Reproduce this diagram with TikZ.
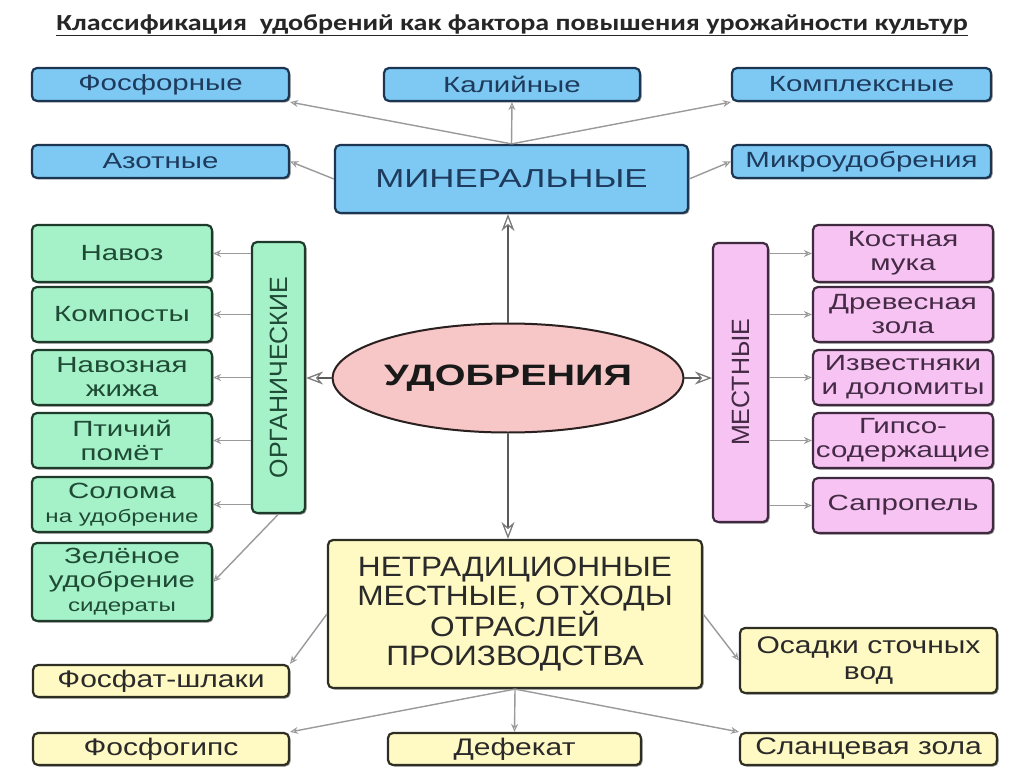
\documentclass[tikz,border=0pt]{standalone}
\usepackage{fontspec}
\setmainfont[FakeStretch=1.34]{Liberation Sans}
\newfontfamily\plainfont{Liberation Sans}
\newfontfamily\titlefont[FakeStretch=1.22]{Carlito}
\newfontfamily\netfont[FakeStretch=1.13]{Liberation Sans}
\newfontfamily\yelfont[FakeStretch=1.25]{Liberation Sans}
\usetikzlibrary{arrows.meta,shadows,shapes.geometric}
\definecolor{bluefill}{HTML}{7DC9F3}
\definecolor{bluedraw}{HTML}{1C3550}
\definecolor{bluetext}{HTML}{1E3A5C}
\definecolor{greenfill}{HTML}{A5F2C9}
\definecolor{greendraw}{HTML}{1E3A2A}
\definecolor{greentext}{HTML}{1F4A35}
\definecolor{pinkfill}{HTML}{F6C3F3}
\definecolor{pinkdraw}{HTML}{3F2A3F}
\definecolor{pinktext}{HTML}{452A45}
\definecolor{yelfill}{HTML}{FFF9C4}
\definecolor{yeldraw}{HTML}{2E2E22}
\definecolor{yeltext}{HTML}{2A2A2A}
\definecolor{ellfill}{HTML}{F7C6C6}
\definecolor{elldraw}{HTML}{2A2020}
\definecolor{connc}{HTML}{9A9A9A}
\definecolor{darkc}{HTML}{5A5A5A}
\newcommand{\fsz}[2]{\fontsize{#1pt}{#2pt}\selectfont}
\begin{document}
\begin{tikzpicture}[x=1pt,y=-1pt,
  base/.style={rounded corners=5pt, line width=2.2pt, align=center, inner sep=0pt,
    drop shadow={shadow xshift=1.5pt,shadow yshift=-1.5pt,fill=black,opacity=0.45}},
  bluebox/.style={base, fill=bluefill, draw=bluedraw, text=bluetext, font=\fsz{22}{24}},
  greenbox/.style={base, fill=greenfill, draw=greendraw, text=greentext, font=\fsz{22}{24}},
  pinkbox/.style={base, fill=pinkfill, draw=pinkdraw, text=pinktext, font=\fsz{22}{24}},
  yelbox/.style={base, fill=yelfill, draw=yeldraw, text=yeltext, font=\yelfont\fsz{24}{26}},
  conn/.style={draw=connc, line width=1.4pt, -{Stealth[open,length=8pt,width=7pt,line width=1pt]}},
  bigarr/.style={draw=darkc, line width=2.5pt, -{Stealth[open,length=17pt,width=13pt,line width=1.3pt,color=darkc!80]}}
]
\useasboundingbox[fill=white] (0,0) rectangle (1024,767);

\node[text=black!85, font=\titlefont\bfseries\fsz{23}{25}] (title) at (512,25)
  {\underline{Классификация\ \ удобрений как фактора повышения урожайности культур}};

% mineral
\node[bluebox, minimum width=257pt, minimum height=33pt] (fos) at (160.5,84.5) {Фосфорные};
\node[bluebox, minimum width=256pt, minimum height=33pt] (kal) at (512,84.5) {Калийные};
\node[bluebox, minimum width=259pt, minimum height=33pt] (kom) at (861.5,84.5) {Комплексные};
\node[bluebox, minimum width=257pt, minimum height=33pt] (azo) at (160.5,161.5) {Азотные};
\node[bluebox, minimum width=259pt, minimum height=33pt] (mik) at (861.5,161.5) {Микроудобрения};
\node[bluebox, minimum width=353pt, minimum height=68pt, font=\fsz{26}{30}] (min) at (511.5,179) {МИНЕРАЛЬНЫЕ};

% center
\node[ellipse, draw=elldraw, line width=2pt, fill=ellfill, minimum width=311pt, minimum height=109pt,
  inner sep=0pt, font=\bfseries\fsz{29.5}{32}, text=black!90] (ell) at (508,378) {УДОБРЕНИЯ};

% organic
\node[greenbox, minimum width=53pt, minimum height=271pt] (org) at (278.5,377.5)
  {\rotatebox{90}{\plainfont\fsz{25}{27}ОРГАНИЧЕСКИЕ}};
\node[greenbox, minimum width=180pt, minimum height=57pt] (nav) at (122,253.5) {Навоз};
\node[greenbox, minimum width=180pt, minimum height=55pt] (kmp) at (122,314.5) {Компосты};
\node[greenbox, minimum width=180pt, minimum height=55pt] (nzh) at (122,377.5) {Навозная\\жижа};
\node[greenbox, minimum width=180pt, minimum height=55pt] (pti) at (122,440.5) {Птичий\\помёт};
\node[greenbox, minimum width=180pt, minimum height=55pt] (sol) at (122,504.5) {Солома\\{\fsz{18}{21}на удобрение}};
\node[greenbox, minimum width=180pt, minimum height=78pt] (zel) at (122,582) {Зелёное\\удобрение\\{\fsz{18}{21}сидераты}};

% local
\node[pinkbox, minimum width=55pt, minimum height=279pt] (mes) at (740.5,382.5)
  {\rotatebox{90}{\plainfont\fsz{25}{27}МЕСТНЫЕ}};
\node[pinkbox, minimum width=180pt, minimum height=57pt] (kos) at (903,253.5) {Костная\\мука};
\node[pinkbox, minimum width=180pt, minimum height=55pt] (dre) at (903,314.5) {Древесная\\зола};
\node[pinkbox, minimum width=180pt, minimum height=55pt] (izv) at (903,377.5) {Известняки\\и доломиты};
\node[pinkbox, minimum width=180pt, minimum height=55pt] (gip) at (903,440.5) {Гипсо-\\содержащие};
\node[pinkbox, minimum width=180pt, minimum height=55pt] (sap) at (903,505.5) {Сапропель};

% nontraditional
\node[yelbox, minimum width=374pt, minimum height=148pt, font=\netfont\fsz{28}{28.5}] (net) at (515,614)
  {НЕТРАДИЦИОННЫЕ\\МЕСТНЫЕ, ОТХОДЫ\\ОТРАСЛЕЙ\\ПРОИЗВОДСТВА};
\node[yelbox, minimum width=256pt, minimum height=32pt] (fsh) at (161,681) {Фосфат-шлаки};
\node[yelbox, minimum width=257pt, minimum height=65pt] (osa) at (868.5,660.5) {Осадки сточных\\вод};
\node[yelbox, minimum width=256pt, minimum height=32pt] (fgi) at (161,749) {Фосфогипс};
\node[yelbox, minimum width=253pt, minimum height=32pt] (def) at (514.5,749) {Дефекат};
\node[yelbox, minimum width=257pt, minimum height=32pt] (sla) at (868.5,749) {Сланцевая зола};

% connectors mineral
\draw[conn] (min.north) -- (fos.south east);
\draw[conn] (min.north) -- (kal.south);
\draw[conn] (min.north) -- (kom.south west);
\draw[conn] (min.west) -- (azo.east);
\draw[conn] (min.east) -- (mik.west);

% central arrows
\draw[bigarr] (ell.north) -- (ell.north |- min.south);
\draw[bigarr] (ell.south) -- (ell.south |- net.north);
\draw[bigarr] (ell.west) -- (ell.west -| org.east);
\draw[bigarr] (ell.east) -- (ell.east -| mes.west);

% organic connectors
\foreach \n in {nav,kmp,nzh,pti,sol}
  \draw[conn] (org.west |- \n.east) -- (\n.east);
\draw[conn] (org.south) -- (zel.east);

% local connectors
\foreach \n in {kos,dre,izv,gip,sap}
  \draw[conn] (mes.east |- \n.west) -- (\n.west);

% nontraditional connectors
\draw[conn] (net.west) -- (fsh.north east);
\draw[conn] (net.east) -- (osa.west);
\draw[conn] (net.south) -- (fgi.north east);
\draw[conn] (net.south) -- (def.north);
\draw[conn] (net.south) -- (sla.north west);
\end{tikzpicture}
\end{document}
